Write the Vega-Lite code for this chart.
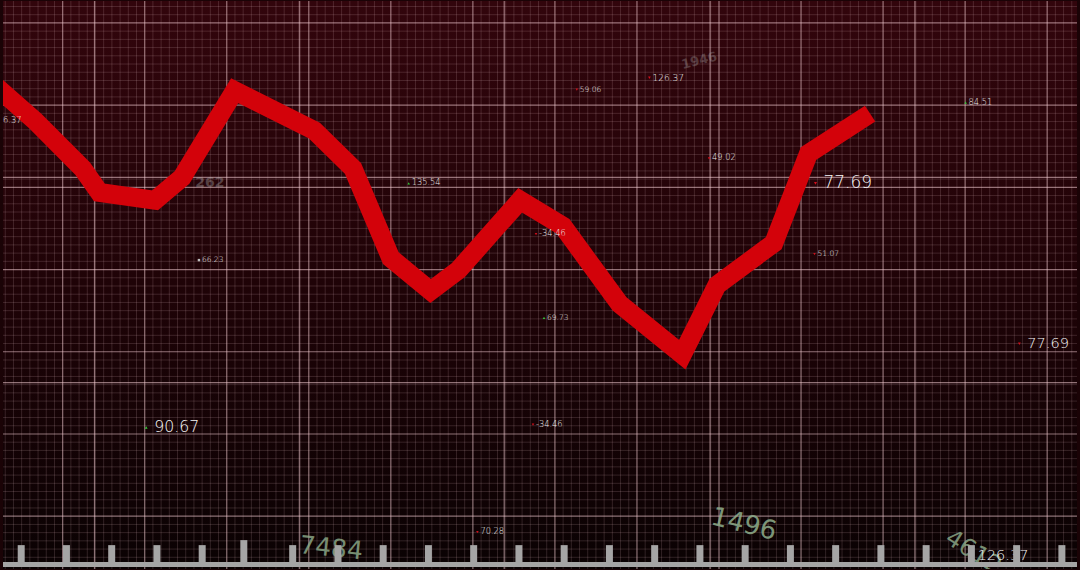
{
  "$schema": "https://vega.github.io/schema/vega-lite/v6.json",
  "width": 1080,
  "height": 570,
  "autosize": {"type": "fit", "contains": "padding"},
  "padding": 0,
  "background": "#1a0306",
  "config": {
    "view": {
      "stroke": null,
      "fill": {"gradient": "linear", "x1": 0, "y1": 0, "x2": 0, "y2": 1,
        "stops": [{"offset": 0, "color": "#32050c"}, {"offset": 0.5, "color": "#1f0307"}, {"offset": 1, "color": "#0a0203"}]}
    }
  },
  "datasets": {
    "vx": [{"g":-7},{"g":-6},{"g":-5},{"g":-4},{"g":-3},{"g":-2},{"g":-1},{"g":1},{"g":2},{"g":3},{"g":4},{"g":5},{"g":6},{"g":7},{"g":8},{"g":9},{"g":11},{"g":12},{"g":13},{"g":14},{"g":15},{"g":16},{"g":17},{"g":18},{"g":19},{"g":21},{"g":22},{"g":23},{"g":24},{"g":25},{"g":26},{"g":27},{"g":28},{"g":29},{"g":31},{"g":32},{"g":33},{"g":34},{"g":35},{"g":36},{"g":37},{"g":38},{"g":39},{"g":41},{"g":42},{"g":43},{"g":44},{"g":45},{"g":46},{"g":47},{"g":48},{"g":49},{"g":51},{"g":52},{"g":53},{"g":54},{"g":55},{"g":56},{"g":57},{"g":58},{"g":59},{"g":61},{"g":62},{"g":63},{"g":64},{"g":65},{"g":66},{"g":67},{"g":68},{"g":69},{"g":71},{"g":72},{"g":73},{"g":74},{"g":75},{"g":76},{"g":77},{"g":78},{"g":79},{"g":81},{"g":82},{"g":83},{"g":84},{"g":85},{"g":86},{"g":87},{"g":88},{"g":89},{"g":91},{"g":92},{"g":93},{"g":94},{"g":95},{"g":96},{"g":97},{"g":98},{"g":99},{"g":101},{"g":102},{"g":103},{"g":104},{"g":105},{"g":106},{"g":107},{"g":108},{"g":109},{"g":111},{"g":112},{"g":113},{"g":114},{"g":115},{"g":116},{"g":117},{"g":118},{"g":119},{"g":121},{"g":122},{"g":123}],
    "hy": [{"g":-6},{"g":-5},{"g":-4},{"g":-3},{"g":-2},{"g":-1},{"g":1},{"g":2},{"g":3},{"g":4},{"g":5},{"g":6},{"g":7},{"g":8},{"g":9},{"g":11},{"g":12},{"g":13},{"g":14},{"g":15},{"g":16},{"g":17},{"g":18},{"g":19},{"g":21},{"g":22},{"g":23},{"g":24},{"g":25},{"g":26},{"g":27},{"g":28},{"g":29},{"g":31},{"g":32},{"g":33},{"g":34},{"g":35},{"g":36},{"g":37},{"g":38},{"g":39},{"g":41},{"g":42},{"g":43},{"g":44},{"g":45},{"g":46},{"g":47},{"g":48},{"g":49},{"g":51},{"g":52},{"g":53},{"g":54},{"g":55},{"g":56},{"g":57},{"g":58},{"g":59},{"g":61},{"g":62}],
    "vmaj": [{"g":0},{"g":10},{"g":20},{"g":30},{"g":40},{"g":50},{"g":60},{"g":70},{"g":80},{"g":90},{"g":100},{"g":110},{"g":120},{"g":3.88},{"g":28.85},{"g":53.82},{"g":78.91},{"g":103.88}],
    "hmaj": [{"g":0},{"g":10},{"g":20},{"g":30},{"g":40},{"g":50},{"g":60},{"g":41.21},{"g":16.24}],
    "labels": [
      {"lx": -8.91, "ly": 48.12, "label": "126.37", "tier": "s", "dir": "dot"},
      {"lx": 16.61, "ly": 31.15, "label": "66.23", "tier": "xs", "dir": "dot"},
      {"lx": 42.18, "ly": 40.48, "label": "135.54", "tier": "s", "dir": "up"},
      {"lx": 62.67, "ly": 51.88, "label": "59.06", "tier": "xs", "dir": "down"},
      {"lx": 71.52, "ly": 53.33, "label": "126.37", "tier": "m", "dir": "down"},
      {"lx": 78.79, "ly": 43.52, "label": "49.02", "tier": "s", "dir": "down"},
      {"lx": 110.06, "ly": 50.3, "label": "84.51", "tier": "s", "dir": "up"},
      {"lx": 91.76, "ly": 40.48, "label": "77.69", "tier": "xl", "dir": "down"},
      {"lx": 57.7, "ly": 34.3, "label": "-34.46", "tier": "s", "dir": "down"},
      {"lx": 58.67, "ly": 24.12, "label": "69.73", "tier": "xs", "dir": "up"},
      {"lx": 91.64, "ly": 31.88, "label": "51.07", "tier": "xs", "dir": "down"},
      {"lx": 116.61, "ly": 20.97, "label": "77.69", "tier": "ml", "dir": "down"},
      {"lx": 10.18, "ly": 10.79, "label": "90.67", "tier": "l", "dir": "up"},
      {"lx": 57.33, "ly": 11.15, "label": "-34.46", "tier": "s", "dir": "down"},
      {"lx": 50.55, "ly": -1.94, "label": "70.28", "tier": "s", "dir": "down"},
      {"lx": 110.55, "ly": -4.85, "label": "126.37", "tier": "ml", "dir": "down"}
    ],
    "deco": [
      {"cx": 32.73, "cy": -3.9, "label": "7484"},
      {"cx": 83.03, "cy": -0.97, "label": "1496"},
      {"cx": 111.0, "cy": -4.4, "label": "4612"},
      {"cx": 17.94, "cy": 40.48, "label": "262"},
      {"cx": 77.6, "cy": 55.4, "label": "1946"}
    ]
  },
  "layer": [
    {
      "layer": [
        {
          "data": {"name": "vx"},
          "mark": {"type": "rule", "color": "#f4cdd4", "opacity": 0.16, "strokeWidth": 1},
          "encoding": {
            "x": {"field": "g", "type": "quantitative", "scale": {"domain": [-7.2727, 123.6364], "nice": false, "zero": false}, "axis": null}
          }
        },
        {
          "data": {"name": "hy"},
          "mark": {"type": "rule", "color": "#f4cdd4", "opacity": 0.16, "strokeWidth": 1},
          "encoding": {
            "y": {"field": "g", "type": "quantitative", "scale": {"domain": [-6.4242, 62.6667], "nice": false, "zero": false}, "axis": null}
          }
        },
        {
          "data": {"name": "vmaj"},
          "mark": {"type": "rule", "color": "#f4cdd4", "opacity": 0.55, "strokeWidth": 1.2},
          "encoding": {
            "x": {"field": "g", "type": "quantitative", "scale": {"domain": [-7.2727, 123.6364], "nice": false, "zero": false}, "axis": null}
          }
        },
        {
          "data": {"name": "hmaj"},
          "mark": {"type": "rule", "color": "#f4cdd4", "opacity": 0.55, "strokeWidth": 1.2},
          "encoding": {
            "y": {"field": "g", "type": "quantitative", "scale": {"domain": [-6.4242, 62.6667], "nice": false, "zero": false}, "axis": null}
          }
        },
        {
          "data": {"values": [
            {"t": -8.48, "v": 52.58}, {"t": -3.39, "v": 48.12}, {"t": 2.42, "v": 42.3}, {"t": 4.48, "v": 39.39},
            {"t": 11.27, "v": 38.42}, {"t": 14.55, "v": 41.21}, {"t": 20.97, "v": 51.76}, {"t": 30.67, "v": 46.91},
            {"t": 35.39, "v": 42.3}, {"t": 40.0, "v": 31.39}, {"t": 44.85, "v": 27.39}, {"t": 48.24, "v": 29.94},
            {"t": 55.76, "v": 38.42}, {"t": 60.97, "v": 35.27}, {"t": 67.88, "v": 25.82}, {"t": 75.52, "v": 19.64},
            {"t": 79.76, "v": 28.12}, {"t": 86.67, "v": 33.21}, {"t": 90.91, "v": 44.12}, {"t": 98.42, "v": 48.97}
          ]},
          "mark": {"type": "line", "color": "#d3020a", "strokeWidth": 19, "strokeJoin": "miter", "strokeCap": "butt", "clip": true},
          "encoding": {
            "x": {"field": "t", "type": "quantitative", "scale": {"domain": [-7.2727, 123.6364], "nice": false, "zero": false}, "axis": null},
            "y": {"field": "v", "type": "quantitative", "scale": {"domain": [-6.4242, 62.6667], "nice": false, "zero": false}, "axis": null}
          }
        },
        {
          "data": {"name": "deco"},
          "transform": [{"filter": "datum.label === '7484'"}],
          "mark": {"type": "text", "color": "#8fae8c", "opacity": 0.8, "fontSize": 25, "font": "DejaVu Sans", "align": "center", "baseline": "middle", "angle": 6, "clip": true},
          "encoding": {
            "x": {"field": "cx", "type": "quantitative", "scale": {"domain": [-7.2727, 123.6364], "nice": false, "zero": false}, "axis": null},
            "y": {"field": "cy", "type": "quantitative", "scale": {"domain": [-6.4242, 62.6667], "nice": false, "zero": false}, "axis": null},
            "text": {"field": "label"}
          }
        },
        {
          "data": {"name": "deco"},
          "transform": [{"filter": "datum.label === '1496'"}],
          "mark": {"type": "text", "color": "#8fae8c", "opacity": 0.85, "fontSize": 26, "font": "DejaVu Sans", "align": "center", "baseline": "middle", "angle": 14, "clip": true},
          "encoding": {
            "x": {"field": "cx", "type": "quantitative", "scale": {"domain": [-7.2727, 123.6364], "nice": false, "zero": false}, "axis": null},
            "y": {"field": "cy", "type": "quantitative", "scale": {"domain": [-6.4242, 62.6667], "nice": false, "zero": false}, "axis": null},
            "text": {"field": "label"}
          }
        },
        {
          "data": {"name": "deco"},
          "transform": [{"filter": "datum.label === '4612'"}],
          "mark": {"type": "text", "color": "#8fae8c", "opacity": 0.8, "fontSize": 24, "font": "DejaVu Sans", "align": "center", "baseline": "middle", "angle": 32, "clip": true},
          "encoding": {
            "x": {"field": "cx", "type": "quantitative", "scale": {"domain": [-7.2727, 123.6364], "nice": false, "zero": false}, "axis": null},
            "y": {"field": "cy", "type": "quantitative", "scale": {"domain": [-6.4242, 62.6667], "nice": false, "zero": false}, "axis": null},
            "text": {"field": "label"}
          }
        },
        {
          "data": {"name": "deco"},
          "transform": [{"filter": "datum.label === '262'"}],
          "mark": {"type": "text", "color": "#b0b0b0", "opacity": 0.35, "fontSize": 14, "fontWeight": "bold", "font": "DejaVu Sans", "align": "center", "baseline": "middle", "clip": true},
          "encoding": {
            "x": {"field": "cx", "type": "quantitative", "scale": {"domain": [-7.2727, 123.6364], "nice": false, "zero": false}, "axis": null},
            "y": {"field": "cy", "type": "quantitative", "scale": {"domain": [-6.4242, 62.6667], "nice": false, "zero": false}, "axis": null},
            "text": {"field": "label"}
          }
        },
        {
          "data": {"name": "deco"},
          "transform": [{"filter": "datum.label === '1946'"}],
          "mark": {"type": "text", "color": "#b0b0b0", "opacity": 0.3, "fontSize": 13, "fontWeight": "bold", "font": "DejaVu Sans", "align": "center", "baseline": "middle", "angle": -14, "clip": true},
          "encoding": {
            "x": {"field": "cx", "type": "quantitative", "scale": {"domain": [-7.2727, 123.6364], "nice": false, "zero": false}, "axis": null},
            "y": {"field": "cy", "type": "quantitative", "scale": {"domain": [-6.4242, 62.6667], "nice": false, "zero": false}, "axis": null},
            "text": {"field": "label"}
          }
        },
        {
          "data": {"name": "labels"},
          "mark": {"type": "point", "filled": true, "opacity": 1, "clip": true},
          "encoding": {
            "x": {"field": "lx", "type": "quantitative", "scale": {"domain": [-7.2727, 123.6364], "nice": false, "zero": false}, "axis": null},
            "y": {"field": "ly", "type": "quantitative", "scale": {"domain": [-6.4242, 62.6667], "nice": false, "zero": false}, "axis": null},
            "shape": {"field": "dir", "type": "nominal", "scale": {"domain": ["up", "down", "dot"], "range": ["triangle-up", "triangle-down", "square"]}, "legend": null},
            "color": {"field": "dir", "type": "nominal", "scale": {"domain": ["up", "down", "dot"], "range": ["#35c83a", "#d0101c", "#bdbdbd"]}, "legend": null},
            "size": {"field": "tier", "type": "ordinal", "scale": {"domain": ["xs", "s", "m", "ml", "l", "xl"], "range": [6, 9, 14, 18, 28, 40]}, "legend": null}
          }
        },
        {
          "data": {"name": "labels"},
          "transform": [{"filter": "indexof(['xs','s','m'], datum.tier) >= 0"}],
          "mark": {"type": "text", "color": "#ececec", "font": "DejaVu Sans", "fontWeight": 200, "align": "left", "baseline": "middle", "dx": 3, "clip": true},
          "encoding": {
            "x": {"field": "lx", "type": "quantitative", "scale": {"domain": [-7.2727, 123.6364], "nice": false, "zero": false}, "axis": null},
            "y": {"field": "ly", "type": "quantitative", "scale": {"domain": [-6.4242, 62.6667], "nice": false, "zero": false}, "axis": null},
            "text": {"field": "label"},
            "size": {"field": "tier", "type": "ordinal", "scale": {"domain": ["xs", "s", "m"], "range": [7.5, 9, 12.5]}, "legend": null}
          }
        },
        {
          "data": {"name": "labels"},
          "transform": [{"filter": "indexof(['ml','l','xl'], datum.tier) >= 0"}],
          "mark": {"type": "text", "color": "#f6f6f6", "font": "DejaVu Sans", "fontWeight": 200, "align": "left", "baseline": "middle", "dx": 8, "clip": true},
          "encoding": {
            "x": {"field": "lx", "type": "quantitative", "scale": {"domain": [-7.2727, 123.6364], "nice": false, "zero": false}, "axis": null},
            "y": {"field": "ly", "type": "quantitative", "scale": {"domain": [-6.4242, 62.6667], "nice": false, "zero": false}, "axis": null},
            "text": {"field": "label"},
            "size": {"field": "tier", "type": "ordinal", "scale": {"domain": ["ml", "l", "xl"], "range": [14.5, 17, 26]}, "legend": null}
          }
        }
      ],
      "resolve": {"scale": {"size": "independent"}}
    },
    {
      "data": {"values": [
        {"k": 0, "top": -3.52}, {"k": 1, "top": -3.52}, {"k": 2, "top": -3.52}, {"k": 3, "top": -3.52},
        {"k": 4, "top": -3.52}, {"k": 4.92, "top": -2.91}, {"k": 6, "top": -3.52}, {"k": 7, "top": -3.52},
        {"k": 8, "top": -3.52}, {"k": 9, "top": -3.52}, {"k": 10, "top": -3.52}, {"k": 11, "top": -3.52},
        {"k": 12, "top": -3.52}, {"k": 13, "top": -3.52}, {"k": 14, "top": -3.52}, {"k": 15, "top": -3.52},
        {"k": 16, "top": -3.52}, {"k": 17, "top": -3.52}, {"k": 18, "top": -3.52}, {"k": 19, "top": -3.52},
        {"k": 20, "top": -3.52}, {"k": 21, "top": -3.52}, {"k": 22, "top": -3.52}, {"k": 23, "top": -3.52}
      ]},
      "layer": [
        {
          "mark": {"type": "rule", "color": "#a5a5a5", "strokeWidth": 7, "strokeCap": "butt"},
          "encoding": {
            "x": {"field": "k", "type": "quantitative", "scale": {"domain": [-0.4022, 23.334], "nice": false, "zero": false}, "axis": null},
            "y": {"field": "top", "type": "quantitative", "scale": {"domain": [-6.4242, 62.6667], "nice": false, "zero": false}, "axis": null},
            "y2": {"datum": -5.6}
          }
        },
        {
          "transform": [{"filter": "datum.k === 0"}],
          "mark": {"type": "rule", "color": "#a5a5a5", "strokeWidth": 5},
          "encoding": {
            "y": {"datum": -5.88, "type": "quantitative", "scale": {"domain": [-6.4242, 62.6667], "nice": false, "zero": false}, "axis": null}
          }
        }
      ]
    }
  ],
  "resolve": {"scale": {"x": "independent"}}
}
